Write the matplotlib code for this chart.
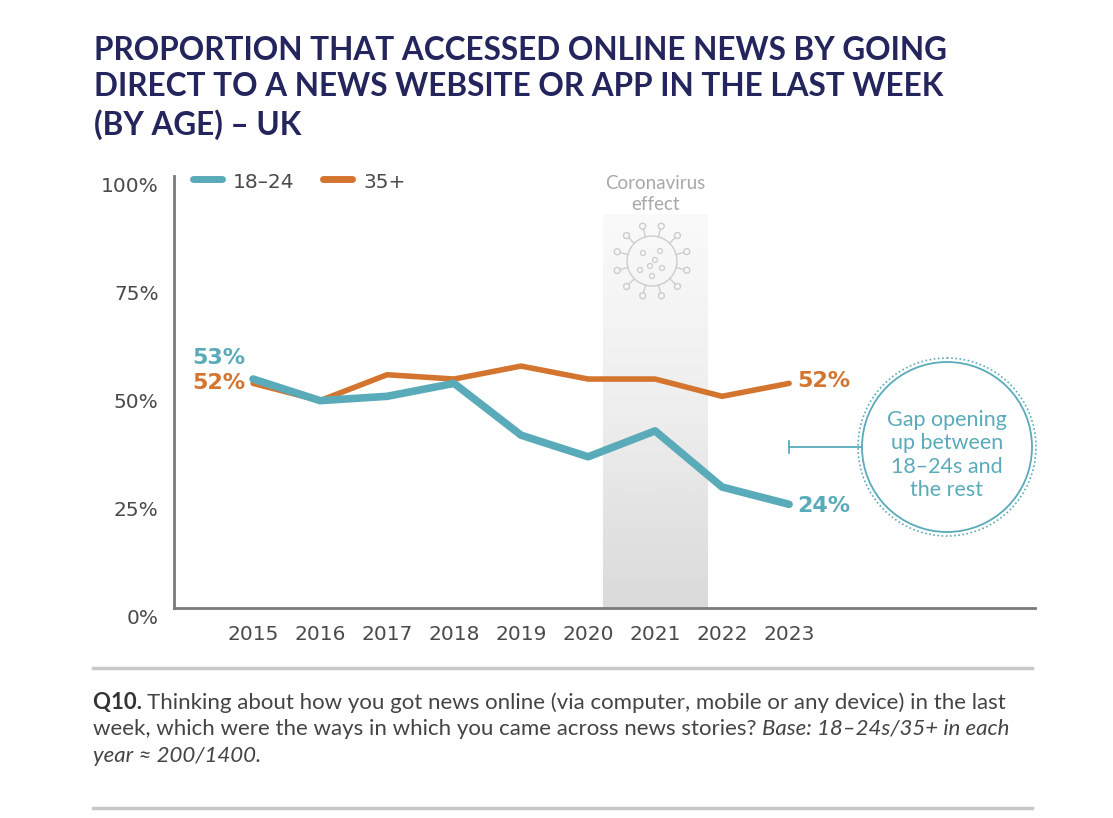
import numpy as np
import matplotlib
matplotlib.use("Agg")
import matplotlib.pyplot as plt
from matplotlib.colors import LinearSegmentedColormap
from matplotlib.transforms import ScaledTranslation
from matplotlib.patches import Circle

years = [2015, 2016, 2017, 2018, 2019, 2020, 2021, 2022, 2023]
young = [53, 48, 49, 52, 40, 35, 41, 28, 24]   # 18-24
older = [52, 48, 54, 53, 56, 53, 53, 49, 52]   # 35+
yticks = [0, 25, 50, 75, 100]
ytick_labels = ["0%", "25%", "50%", "75%", "100%"]

TEAL = "#5aabba"
ORANGE = "#d3742f"
NAVY = "#23255c"
GREY_TXT = "#4a4a4a"
TICKFONT = "DejaVu Sans"

W, H = 1113, 818
plt.rcParams['font.family'] = ['Lato', 'DejaVu Sans']

fig = plt.figure(figsize=(W / 100, H / 100), dpi=100)

def fx(x):
    return x / W

def fy(y):
    return 1 - y / H

# main axes
ax = fig.add_axes([fx(174), fy(608), fx(1035) - fx(174), fy(176) - fy(608)])
ax.set_xlim(2013.82, 2026.67)
ax.set_ylim(0, 100)

# coronavirus shading
grad = np.linspace(0, 1, 256).reshape(-1, 1)
cmap = LinearSegmentedColormap.from_list("shade", ["#dadada", "#eeeeee", "#fafafa"])
ax.imshow(grad, extent=[2020.22, 2021.78, 0, 91], origin="lower", cmap=cmap,
          aspect="auto", zorder=0)
ax.text(2021.0, 100.3, "Coronavirus\neffect", ha="center", va="top", fontsize=13.5,
        color="#a8a8a8", linespacing=1.3)

ax.plot(years, older, color=ORANGE, lw=4, solid_capstyle="round",
        solid_joinstyle="round", zorder=3)
ax.plot(years, young, color=TEAL, lw=5.5, solid_capstyle="round",
        solid_joinstyle="round", zorder=4)

# end labels
lab_kw = dict(textcoords="offset pixels", va="center", fontsize=16,
              fontweight="bold", family=TICKFONT)
ax.annotate(f"{young[0]}%", (years[0], young[0]), xytext=(-8, 21), color=TEAL,
            ha="right", **lab_kw)
ax.annotate(f"{older[0]}%", (years[0], older[0]), xytext=(-8, 0), color=ORANGE,
            ha="right", **lab_kw)
ax.annotate(f"{older[-1]}%", (years[-1], older[-1]), xytext=(8, 2), color=ORANGE,
            ha="left", **lab_kw)
ax.annotate(f"{young[-1]}%", (years[-1], young[-1]), xytext=(8, -2), color=TEAL,
            ha="left", **lab_kw)

for s in ["top", "right"]:
    ax.spines[s].set_visible(False)
for s in ["left", "bottom"]:
    ax.spines[s].set_color("#7a7a7a")
    ax.spines[s].set_linewidth(2)
ax.set_yticks(yticks)
ax.set_yticklabels(ytick_labels, family=TICKFONT)
ax.set_xticks(years)
ax.set_xticklabels([str(y) for y in years], family=TICKFONT)
ax.tick_params(axis="both", length=0, labelsize=14.5, colors=GREY_TXT)
ax.tick_params(axis="y", pad=11)
ax.tick_params(axis="x", pad=12)
off = ScaledTranslation(0, -0.08, fig.dpi_scale_trans)
for lab in ax.get_yticklabels():
    lab.set_transform(lab.get_transform() + off)
ax.set_facecolor("none")

# overlay in pixel coordinates for decorations
ov = fig.add_axes([0, 0, 1, 1], zorder=5)
ov.set_xlim(0, W)
ov.set_ylim(H, 0)
ov.axis("off")

# title
ov.text(94, 36, "PROPORTION THAT ACCESSED ONLINE NEWS BY GOING\n"
        "DIRECT TO A NEWS WEBSITE OR APP IN THE LAST WEEK\n(BY AGE) – UK",
        ha="left", va="top", fontsize=22.7, fontweight="bold", color=NAVY,
        linespacing=1.3)

# legend
ov.plot([193, 222], [179, 179], color=TEAL, lw=5, solid_capstyle="round")
ov.text(233, 182, "18–24", ha="left", va="center", fontsize=14.5, color=GREY_TXT,
        family=TICKFONT)
ov.plot([323, 352], [179, 179], color=ORANGE, lw=5, solid_capstyle="round")
ov.text(363, 182, "35+", ha="left", va="center", fontsize=14.5, color=GREY_TXT,
        family=TICKFONT)

# virus icon
vc = (652, 261)
vcol = "#cdcdcd"
ov.add_patch(Circle(vc, 25, fill=False, ec=vcol, lw=1))
for a in np.linspace(0, 2 * np.pi, 12, endpoint=False) + 0.26:
    x0, y0 = vc[0] + 25 * np.cos(a), vc[1] + 25 * np.sin(a)
    x1, y1 = vc[0] + 33 * np.cos(a), vc[1] + 33 * np.sin(a)
    ov.plot([x0, x1], [y0, y1], color=vcol, lw=1)
    ov.add_patch(Circle((vc[0] + 36 * np.cos(a), vc[1] + 36 * np.sin(a)), 3,
                        fill=False, ec=vcol, lw=1))
for dx, dy in [(-9, -8), (8, -10), (-2, 5), (10, 7), (-12, 9), (3, -1), (0, 15)]:
    ov.add_patch(Circle((vc[0] + dx, vc[1] + dy), 2.5, fill=False, ec=vcol, lw=0.9))

# callout
cc = (947, 447)
ov.add_patch(Circle(cc, 85, fill=False, ec=TEAL, lw=1.3))
ov.add_patch(Circle(cc, 89, fill=False, ec=TEAL, lw=1.2, ls=(0, (1, 1.5))))
ov.plot([789, 862], [447, 447], color=TEAL, lw=1.3)
ov.plot([789, 789], [441, 453], color=TEAL, lw=1.3)
ov.text(cc[0], cc[1] + 8, "Gap opening\nup between\n18–24s and\nthe rest",
        ha="center", va="center", fontsize=15.5, color=TEAL, linespacing=1.22)

# footnote
ov.plot([93, 1032], [668, 668], color="#c8c8c8", lw=2.5)
ov.plot([93, 1032], [808, 808], color="#c8c8c8", lw=2.5)
fs = 16
FT = "#444444"
inv = ov.transData.inverted()

def after(t):
    fig.canvas.draw()
    return inv.transform((t.get_window_extent().x1, 0))[0]

q = ov.text(93, 703, "Q10. ", ha="left", va="center", fontsize=fs, fontweight="bold",
            color="#333333")
ov.text(after(q), 703, "Thinking about how you got news online (via computer, mobile or any "
        "device) in the last", ha="left", va="center", fontsize=fs, color=FT)
t1 = ov.text(93, 729, "week, which were the ways in which you came across news stories? ",
             ha="left", va="center", fontsize=fs, color=FT)
ov.text(after(t1), 729, "Base: 18–24s/35+ in each", ha="left", va="center", fontsize=fs,
        style="italic", color=FT)
ov.text(93, 756, "year ≈ 200/1400.", ha="left", va="center", fontsize=fs,
        style="italic", color=FT)

fig.savefig("out.png", dpi=100)
